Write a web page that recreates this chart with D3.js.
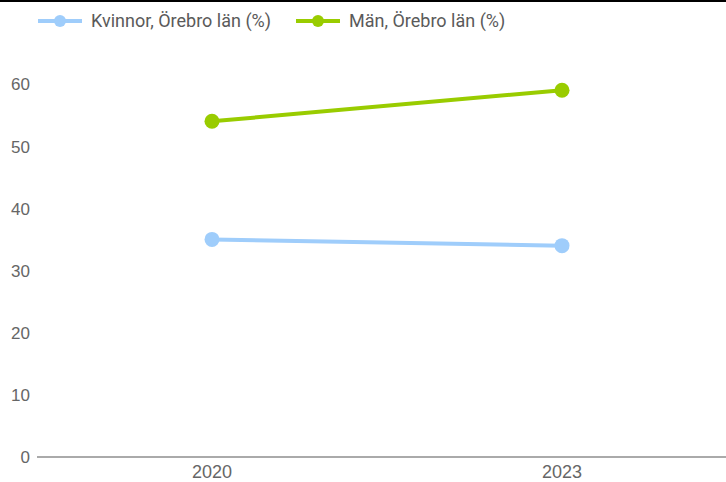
<!DOCTYPE html>
<html>
<head>
<meta charset="utf-8">
<script src="https://cdn.jsdelivr.net/npm/d3@7"></script>
<style>
    body { margin: 0; background: #fff; }
    svg { display: block; font-family: Roboto, sans-serif; }
    .axis text { fill: #666; }
    .legend text { fill: #5a5a5a; font-size: 18px; }
</style>
</head>
<body>
<div id="vis"></div>
<script>
    var years = ["2020", "2023"];
    var seriesNames = ["Kvinnor, Örebro län (%)", "Män, Örebro län (%)"];
    var kvinnor = [35, 34];
    var man = [54, 59];
    var yTicks = [0, 10, 20, 30, 40, 50, 60];
    var colors = ["#9fcdfb", "#99cc00"];

    var width = 726,
        height = 482;

    var series = [kvinnor, man];

    var svg = d3.select("#vis").append("svg")
        .attr("width", width)
        .attr("height", height);

    // black strip along the top
    svg.append("rect")
        .attr("x", 0).attr("y", 0)
        .attr("width", width).attr("height", 2)
        .attr("fill", "#000");

    var x = d3.scaleBand()
        .domain(years)
        .range([37, 737]);

    var y = d3.scaleLinear()
        .domain([0, 60])
        .range([457, 84]);

    // y labels
    var yAxis = svg.append("g")
        .attr("class", "axis")
        .attr("transform", "translate(30,0)")
        .call(d3.axisLeft(y).tickValues(yTicks).tickSize(0).tickPadding(0));
    yAxis.select(".domain").remove();
    yAxis.selectAll("text").attr("dy", "0.35em").style("font-size", "17px");

    // baseline
    svg.append("line")
        .attr("x1", 37).attr("x2", width)
        .attr("y1", y(0)).attr("y2", y(0))
        .attr("stroke", "#aaa")
        .attr("stroke-width", 2);

    var xAxis = svg.append("g")
        .attr("class", "axis")
        .attr("transform", "translate(0,472)")
        .call(d3.axisBottom(x).tickSize(0).tickPadding(0));
    xAxis.select(".domain").remove();
    xAxis.selectAll("text").attr("dy", "0.35em").style("font-size", "18px");

    var line = d3.line()
        .x(function(d, i) { return x(years[i]) + x.bandwidth() / 2; })
        .y(function(d) { return y(d); });

    series.forEach(function(s, k) {
        svg.append("path")
            .datum(s)
            .attr("d", line)
            .attr("fill", "none")
            .attr("stroke", colors[k])
            .attr("stroke-width", 4);

        svg.selectAll(".dot" + k)
            .data(s)
            .enter().append("circle")
            .attr("class", "dot" + k)
            .attr("cx", function(d, i) { return x(years[i]) + x.bandwidth() / 2; })
            .attr("cy", function(d) { return y(d); })
            .attr("r", 7.5)
            .attr("fill", colors[k]);
    });

    // legend
    var legendX = [38, 296];
    var legend = svg.append("g").attr("class", "legend");
    seriesNames.forEach(function(name, k) {
        var g = legend.append("g")
            .attr("transform", "translate(" + legendX[k] + ",21)");
        g.append("line")
            .attr("x1", 0).attr("x2", 44)
            .attr("stroke", colors[k])
            .attr("stroke-width", 4);
        g.append("circle")
            .attr("cx", 22).attr("r", 6)
            .attr("fill", colors[k]);
        g.append("text")
            .attr("x", 53)
            .attr("dy", "0.35em")
            .text(name);
    });
</script>
</body>
</html>
